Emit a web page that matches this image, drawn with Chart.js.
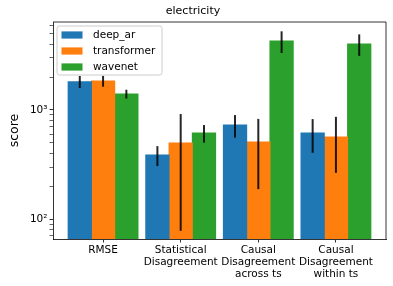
<!DOCTYPE html>
<html>
<head>
<meta charset="utf-8">
<script src="https://cdn.jsdelivr.net/npm/chart.js@4"></script>
<style>
  html, body { margin: 0; padding: 0; background: #fff; }
</style>
</head>
<body>
<canvas id="graph" width="393" height="286"></canvas>
<script>
// values (log scale)
const categories = [['RMSE'], ['Statistical', 'Disagreement'], ['Causal', 'Disagreement', 'across ts'], ['Causal', 'Disagreement', 'within ts']]
const deepAr = [1820, 386, 728, 615]
const deepArErr = [230, 80, 170, 210]
const transformer = [1845, 498, 508, 565]
const transformerErr = [210, 420, 320, 300]
const wavenet = [1403, 615, 4297, 4036]
const wavenetErr = [130, 113, 970, 900]
const yTicks = [70, 80, 90, 100, 200, 300, 400, 500, 600, 700, 800, 900, 1000, 2000, 3000, 4000, 5000, 6000]
const yTickLabels = { 100: '10²', 1000: '10³' }

const font = 'DejaVu Sans'
const toPoints = arr => arr.map((v, i) => ({ x: i, y: v }))

// error bars, drawn through the y scale
const errorBars = {
    id: 'errorBars',
    afterDatasetsDraw(chart) {
        const ctx = chart.ctx
        const y = chart.scales.y
        ctx.save()
        ctx.strokeStyle = 'rgba(0,0,0,0.85)'
        ctx.lineWidth = 2
        chart.data.datasets.forEach((ds, di) => {
            chart.getDatasetMeta(di).data.forEach((bar, i) => {
                const v = ds.data[i].y, e = ds.errors[i]
                ctx.beginPath()
                ctx.moveTo(bar.x, y.getPixelForValue(v + e))
                ctx.lineTo(bar.x, y.getPixelForValue(Math.max(v - e, 1)))
                ctx.stroke()
            })
        })
        ctx.restore()
    }
}

// frame + legend box on top of everything
const frameLegend = {
    id: 'frameLegend',
    afterDraw(chart) {
        const ctx = chart.ctx
        const a = chart.chartArea
        ctx.save()
        ctx.strokeStyle = '#000'
        ctx.lineWidth = 0.8
        ctx.beginPath()
        ctx.moveTo(a.left, a.top)
        ctx.lineTo(a.right, a.top)
        ctx.lineTo(a.right, a.bottom)
        ctx.stroke()

        const lx = a.left + 4, ly = a.top + 4, lw = 105, lh = 49
        ctx.beginPath()
        ctx.roundRect(lx, ly, lw, lh, 2.5)
        ctx.fillStyle = 'rgba(255,255,255,0.8)'
        ctx.fill()
        ctx.strokeStyle = '#cccccc'
        ctx.lineWidth = 1
        ctx.stroke()

        ctx.font = '10.5px "' + font + '"'
        ctx.textBaseline = 'middle'
        chart.data.datasets.forEach((ds, i) => {
            const cy = ly + 9 + i * 16
            ctx.fillStyle = ds.backgroundColor
            ctx.fillRect(lx + 4.5, cy - 3.6, 21, 7.2)
            ctx.fillStyle = '#000'
            ctx.fillText(ds.label, lx + 36, cy)
        })
        ctx.restore()
    }
}

new Chart(document.getElementById('graph').getContext('2d'), {
    type: 'bar',
    data: {
        datasets: [
            { label: 'deep_ar', data: toPoints(deepAr), errors: deepArErr, backgroundColor: '#1f77b4' },
            { label: 'transformer', data: toPoints(transformer), errors: transformerErr, backgroundColor: '#ff7f0e' },
            { label: 'wavenet', data: toPoints(wavenet), errors: wavenetErr, backgroundColor: '#2ca02c' }
        ]
    },
    options: {
        responsive: false,
        animation: false,
        categoryPercentage: 0.9,
        barPercentage: 1,
        inflateAmount: 0.5,
        layout: { padding: { left: 0, right: 7, top: 0, bottom: 0 } },
        plugins: {
            legend: { display: false },
            tooltip: { enabled: false },
            title: {
                display: true,
                text: 'electricity',
                color: '#000',
                font: { family: font, size: 11, weight: 'normal' },
                padding: { top: 5, bottom: 3.8 }
            }
        },
        scales: {
            x: {
                type: 'linear',
                offset: false,
                min: -0.645,
                max: 3.645,
                afterBuildTicks: s => { s.ticks = categories.map((c, i) => ({ value: i })) },
                afterFit: s => { s.height = 47 },
                grid: { offset: false, drawOnChartArea: false, tickLength: 3.5, tickWidth: 0.8, tickColor: '#000' },
                border: { display: true, color: '#000', width: 0.8 },
                ticks: {
                    autoSkip: false,
                    maxRotation: 0,
                    padding: 2,
                    color: '#000',
                    font: { family: font, size: 10.5, lineHeight: 1.15 },
                    callback: v => categories[v]
                }
            },
            y: {
                type: 'logarithmic',
                min: 65.6,
                max: 6410,
                afterBuildTicks: s => { s.ticks = yTicks.map(v => ({ value: v, major: v in yTickLabels })) },
                afterFit: s => { s.width = 53 },
                grid: {
                    drawOnChartArea: false,
                    tickLength: 3.5,
                    tickColor: '#000',
                    tickWidth: c => (c.tick && c.tick.major) ? 0.8 : 0.6
                },
                border: { display: true, color: '#000', width: 0.8 },
                title: {
                    display: true,
                    text: 'score',
                    color: '#000',
                    font: { family: font, size: 12.5 },
                    padding: { top: 7, bottom: 0 }
                },
                ticks: {
                    autoSkip: false,
                    padding: 2,
                    color: '#000',
                    font: { family: font, size: 10.5 },
                    callback: v => yTickLabels[v] || ''
                }
            }
        }
    },
    plugins: [errorBars, frameLegend]
})
</script>
</body>
</html>
